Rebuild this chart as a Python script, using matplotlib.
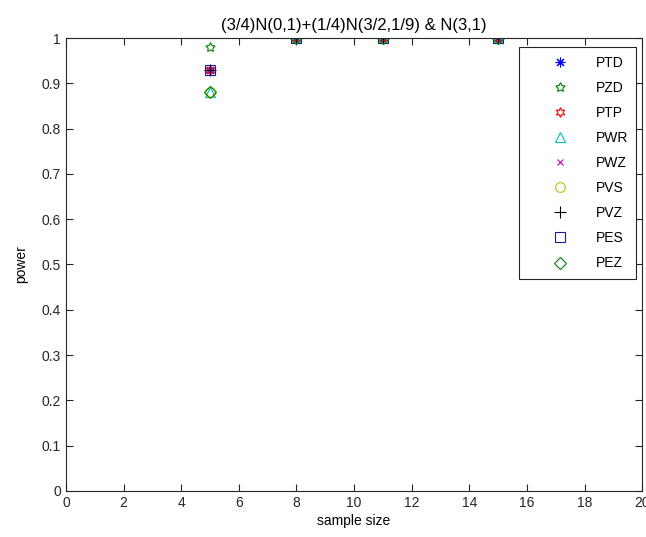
import numpy as np
import matplotlib.pyplot as plt

# -----------------------------
# Data
# -----------------------------
sample_size = [5, 8, 11, 15]

ptd = [0.93, 1.0, 1.0, 1.0]
pzd = [0.98, 1.0, 1.0, 1.0]
ptp = [0.93, 1.0, 1.0, 1.0]
pwr = [0.88, 1.0, 1.0, 1.0]
pwz = [0.93, 1.0, 1.0, 1.0]
pvs = [0.88, 1.0, 1.0, 1.0]
pvz = [0.93, 1.0, 1.0, 1.0]
pes = [0.93, 1.0, 1.0, 1.0]
pez = [0.88, 1.0, 1.0, 1.0]

labels = ["PTD", "PZD", "PTP", "PWR", "PWZ", "PVS", "PVZ", "PES", "PEZ"]
series = [ptd, pzd, ptp, pwr, pwz, pvs, pvz, pes, pez]

# matlab style markers / colours
markers = [(8, 2, 0), (5, 1, 0), (6, 1, 0), "^", "x", "o", "+", "s", "D"]
colors = ["#0000ff", "#008000", "#ff0000", "#00bfbf", "#bf00bf",
          "#bfbf00", "#000000", "#1a1a99", "#008000"]
sizes = [7, 7, 7, 7, 5, 7, 8, 7, 6]

plt.rcParams["font.family"] = ["Liberation Sans", "DejaVu Sans"]
plt.rcParams["font.size"] = 10

fig = plt.figure(figsize=(6.46, 5.37), dpi=100)
ax = fig.add_axes([0.102, 0.086, 0.892, 0.843])

for y, lab, m, c, s in zip(series, labels, markers, colors, sizes):
    ax.plot(sample_size, y, linestyle="none", marker=m, color=c,
            markerfacecolor="none", markeredgecolor=c, markersize=s,
            markeredgewidth=0.8, label=lab)

ax.set_xlim(0, 20)
ax.set_ylim(0, 1)
ax.set_xticks(np.arange(0, 21, 2))
ax.set_yticks(np.arange(0, 1.01, 0.1))
ax.set_yticklabels(["0", "0.1", "0.2", "0.3", "0.4", "0.5", "0.6",
                    "0.7", "0.8", "0.9", "1"])
ax.tick_params(direction="in", top=True, right=True, length=5,
               width=0.8, colors="#262626", labelcolor="#262626")
for sp in ax.spines.values():
    sp.set_linewidth(0.8)
    sp.set_color("#262626")

ax.set_xlabel("sample size", labelpad=3)
ax.set_ylabel("power", labelpad=10)
ax.set_title("(3/4)N(0,1)+(1/4)N(3/2,1/9) & N(3,1)", pad=6)

leg = ax.legend(loc="upper right", bbox_to_anchor=(0.99, 0.98),
                borderaxespad=0, fancybox=False, framealpha=1,
                edgecolor="#262626", borderpad=0.6, labelspacing=0.8,
                handletextpad=0.3, handlelength=4.6, fontsize=10)
leg.get_frame().set_linewidth(0.8)

plt.savefig("out.png", dpi=100)
